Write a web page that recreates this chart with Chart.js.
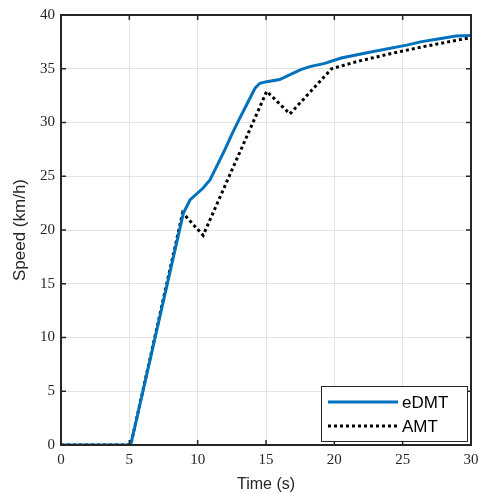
<!DOCTYPE html>
<html>
<head>
<meta charset="utf-8">
<script src="https://cdn.jsdelivr.net/npm/chart.js@4"></script>
<style>
  html, body { margin: 0; padding: 0; background: #fff; }
  #wrap { width: 480px; height: 494px; position: relative; }
</style>
</head>
<body>
<div id="wrap"><canvas id="speed_chart"></canvas></div>
<script>
const seriesNames = ['eDMT', 'AMT'];

const edmtTime = [0, 5.1, 8.95, 9.44, 10.4, 10.9, 11.5, 12.0, 12.5, 13.0, 13.6, 14.2, 14.55, 15.05, 16.0, 17.5, 18.2, 19.3, 20.5, 22.85, 25.3, 26.3, 27.7, 28.9, 30];
const edmtSpeed = [0, 0, 21.55, 22.8, 23.9, 24.65, 26.2, 27.5, 28.9, 30.2, 31.7, 33.2, 33.65, 33.8, 34.0, 34.9, 35.2, 35.5, 36.0, 36.6, 37.2, 37.5, 37.8, 38.05, 38.1];

const amtTime = [0, 5.1, 8.9, 10.4, 15.05, 16.75, 19.8, 21.6, 24.1, 26.5, 30];
const amtSpeed = [0, 0, 21.6, 19.5, 32.9, 30.8, 35.0, 35.65, 36.4, 37.05, 37.9];

const xTicks = [0, 5, 10, 15, 20, 25, 30];
const yTicks = [0, 5, 10, 15, 20, 25, 30, 35, 40];

const toPoints = (xs, ys) => xs.map((x, i) => ({ x: x, y: ys[i] }));

// MATLAB-like inward tick marks on all four sides
const boxTicks = {
    id: 'boxTicks',
    afterDatasetsDraw(chart) {
        const ctx = chart.ctx;
        const a = chart.chartArea;
        const xs = chart.scales.x, ys = chart.scales.y;
        const len = 5;
        ctx.save();
        ctx.strokeStyle = '#262626';
        ctx.lineWidth = 1.5;
        ctx.beginPath();
        xTicks.forEach(v => {
            const px = xs.getPixelForValue(v);
            ctx.moveTo(px, a.bottom); ctx.lineTo(px, a.bottom - len);
            ctx.moveTo(px, a.top); ctx.lineTo(px, a.top + len);
        });
        yTicks.forEach(v => {
            const py = ys.getPixelForValue(v);
            ctx.moveTo(a.left, py); ctx.lineTo(a.left + len, py);
            ctx.moveTo(a.right, py); ctx.lineTo(a.right - len, py);
        });
        ctx.stroke();
        ctx.lineWidth = 2;
        ctx.strokeRect(a.left, a.top, a.right - a.left, a.bottom - a.top);
        ctx.restore();
    }
};

// legend box inside the plot, bottom right
const insideLegend = {
    id: 'insideLegend',
    afterDraw(chart) {
        const ctx = chart.ctx;
        const a = chart.chartArea;
        const w = 146, h = 55;
        const x0 = a.right - w - 4, y0 = a.bottom - h - 4;
        ctx.save();
        ctx.fillStyle = '#fff';
        ctx.fillRect(x0, y0, w, h);
        ctx.strokeStyle = '#262626';
        ctx.lineWidth = 1;
        ctx.strokeRect(x0 + 0.5, y0 + 0.5, w, h);
        const ds = chart.data.datasets;
        ds.forEach((d, i) => {
            const cy = y0 + 16 + i * 24;
            ctx.beginPath();
            ctx.strokeStyle = d.borderColor;
            ctx.lineWidth = 3;
            ctx.setLineDash(d.borderDash || []);
            ctx.moveTo(x0 + 7, cy);
            ctx.lineTo(x0 + 77, cy);
            ctx.stroke();
            ctx.setLineDash([]);
            ctx.fillStyle = '#000';
            ctx.font = '17px "Liberation Sans", Arial, sans-serif';
            ctx.textBaseline = 'middle';
            ctx.textAlign = 'left';
            ctx.fillText(d.label, x0 + 81, cy + 1);
        });
        ctx.restore();
    }
};

const config = {
    type: 'line',
    data: {
        datasets: [{
            label: seriesNames[0],
            data: toPoints(edmtTime, edmtSpeed),
            borderColor: '#0072BD',
            borderWidth: 3,
            pointRadius: 0,
            tension: 0
        }, {
            label: seriesNames[1],
            data: toPoints(amtTime, amtSpeed),
            borderColor: '#000000',
            borderWidth: 3,
            borderDash: [3, 3],
            pointRadius: 0,
            tension: 0
        }]
    },
    options: {
        responsive: true,
        maintainAspectRatio: false,
        animation: false,
        layout: { padding: { top: 15, right: 9, left: 0, bottom: 0 } },
        plugins: {
            legend: { display: false },
            tooltip: { enabled: false }
        },
        scales: {
            x: {
                type: 'linear',
                min: 0,
                max: 30,
                afterBuildTicks: s => { s.ticks = xTicks.map(v => ({ value: v })); },
                afterFit: s => { s.height = 49; s.paddingLeft = 0; s.paddingRight = 0; },
                ticks: {
                    color: '#262626',
                    padding: 6,
                    maxRotation: 0,
                    font: { family: '"Liberation Serif", "Times New Roman", serif', size: 15 }
                },
                grid: { color: '#e3e3e3', lineWidth: 1, drawTicks: false },
                border: { display: false },
                title: {
                    display: true,
                    text: 'Time (s)',
                    color: '#262626',
                    padding: { top: 2, bottom: 0 },
                    font: { family: '"Liberation Sans", Arial, sans-serif', size: 16 }
                }
            },
            y: {
                min: 0,
                max: 40,
                afterBuildTicks: s => { s.ticks = yTicks.map(v => ({ value: v })); },
                afterFit: s => { s.width = 61; s.paddingTop = 0; s.paddingBottom = 0; },
                ticks: {
                    color: '#262626',
                    padding: 6,
                    font: { family: '"Liberation Serif", "Times New Roman", serif', size: 15 }
                },
                grid: { color: '#e3e3e3', lineWidth: 1, drawTicks: false },
                border: { display: false },
                title: {
                    display: true,
                    text: 'Speed (km/h)',
                    color: '#262626',
                    padding: { top: 10, bottom: 0 },
                    font: { family: '"Liberation Sans", Arial, sans-serif', size: 17 }
                }
            }
        }
    },
    plugins: [boxTicks, insideLegend]
};

const speedChart = new Chart(document.getElementById('speed_chart'), config);
</script>
</body>
</html>
